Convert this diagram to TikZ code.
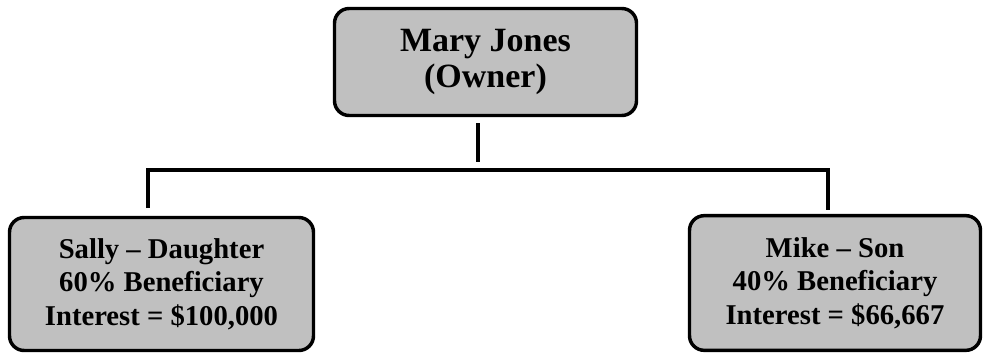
\documentclass[tikz,border=0pt]{standalone}
\usepackage{fontspec}
\setmainfont{Liberation Serif}
\definecolor{boxgray}{HTML}{C0C0C0}
\tikzset{
  famtop/.style={draw=black, fill=boxgray, line width=2.6pt, rounded corners=11pt,
    align=center, inner sep=0pt, font=\bfseries\fontsize{25.5}{27}\selectfont},
  fambox/.style={draw=black, fill=boxgray, line width=2.6pt, rounded corners=11pt,
    align=center, inner sep=0pt, font=\bfseries\fontsize{21.5}{25}\selectfont},
  conn/.style={draw=black, line width=2.8pt}
}
\begin{document}
\begin{tikzpicture}[x=0.75pt,y=-0.75pt]
\useasboundingbox (0,0) rectangle (984,354);
\node[famtop, minimum width=226.5pt, minimum height=80.25pt] (owner) at (485.5,62)
  {Mary Jones\\(Owner)};
\node[fambox, minimum width=228pt, minimum height=99.75pt] (sally) at (161.5,284)
  {Sally – Daughter\\60\% Beneficiary\\Interest = \$100,000};
\node[fambox, minimum width=218.25pt, minimum height=101pt] (mike) at (835,283)
  {Mike – Son\\40\% Beneficiary\\Interest = \$66,667};
\coordinate (ot) at (478,123);
\coordinate (ob) at (478,162);
\coordinate (hl) at (148,170);
\coordinate (hr) at (828,170);
\coordinate (sl) at (148,208);
\coordinate (mr) at (828,210);
\draw[conn] (ot) -- (ob);
\draw[conn] (sl) -- (hl) -- (hr) -- (mr);
\end{tikzpicture}
\end{document}
